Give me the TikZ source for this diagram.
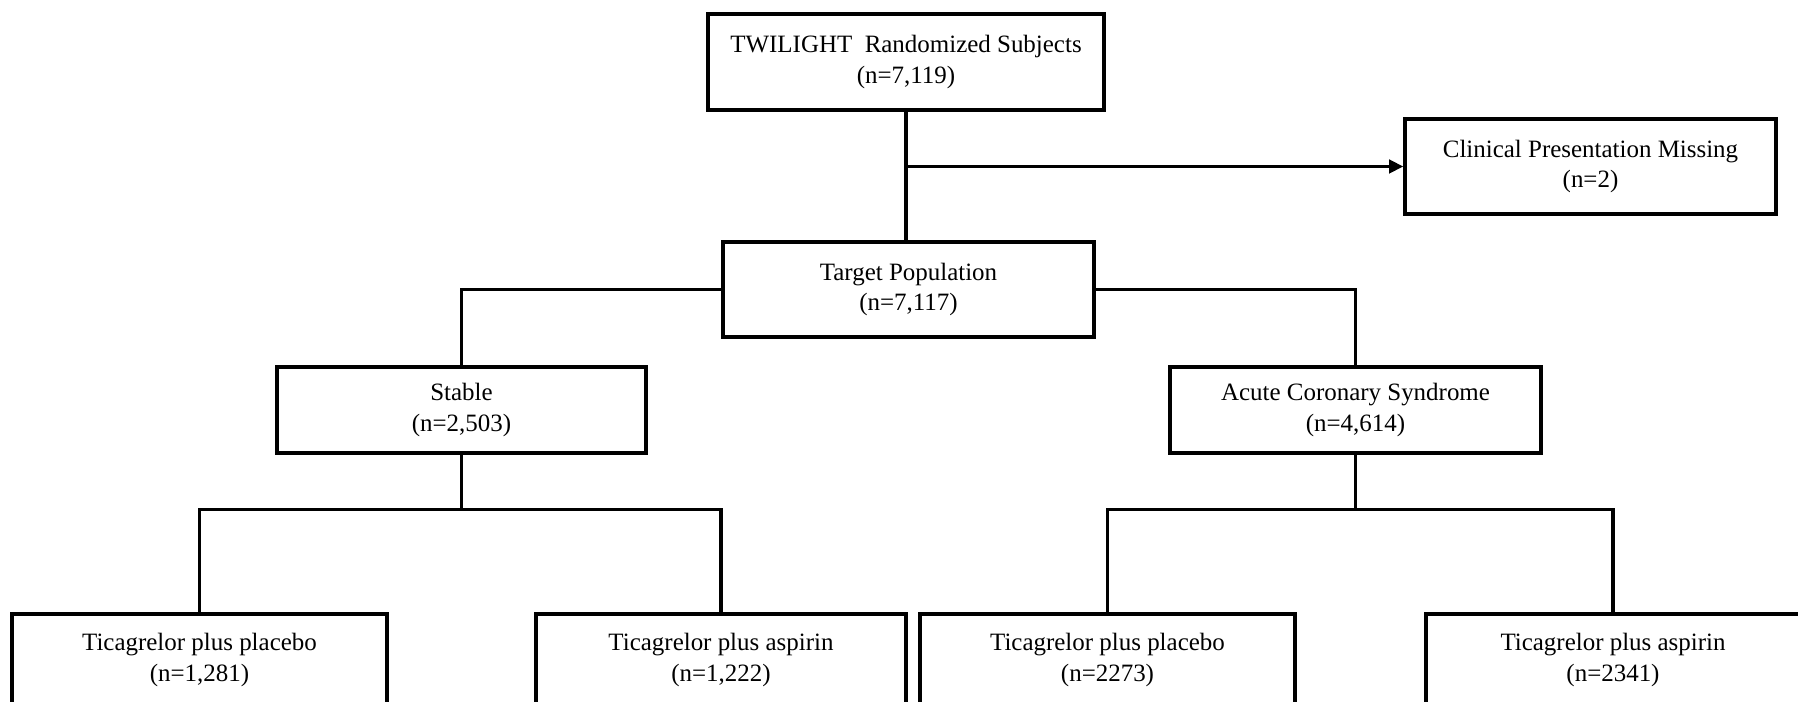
\documentclass[tikz,border=0pt]{standalone}
\usepackage{fontspec}
\setmainfont{Liberation Serif}
\usetikzlibrary{arrows.meta}

\tikzset{boite/.style 2 args = {draw, line width = 1pt, inner sep = 0pt, align = center,
                                minimum width = #1cm, minimum height = #2cm,
                                font = \fontsize{7.1}{8.8}\selectfont},
         lien/.style = {line width = 0.9pt},
         fleche/.style = {lien, -{Triangle[length=4pt, width=3.8pt]}}
        }

\begin{document}
\begin{tikzpicture}
\useasboundingbox (0,0) rectangle (17.98,-7.02);
\node[boite={3.96}{0.96}] (twilight) at (9.06,-0.62) {TWILIGHT~ Randomized Subjects\\(n=7,119)};
\node[boite={3.71}{0.95}] (missing) at (15.905,-1.665) {Clinical Presentation Missing\\(n=2)};
\node[boite={3.71}{0.95}] (target) at (9.085,-2.895) {Target Population\\(n=7,117)};
\node[boite={3.69}{0.86}] (stable) at (4.615,-4.10) {Stable\\(n=2,503)};
\node[boite={3.71}{0.86}] (acs) at (13.555,-4.10) {Acute Coronary Syndrome\\(n=4,614)};
\foreach \n/\x/\w/\t in {sp/1.995/3.75/{Ticagrelor plus placebo\\(n=1,281)},
                         sa/7.21/3.70/{Ticagrelor plus aspirin\\(n=1,222)},
                         ap/11.075/3.75/{Ticagrelor plus placebo\\(n=2273)},
                         aa/16.13/3.74/{Ticagrelor plus aspirin\\(n=2341)}}
   {\node[boite={\w}{0.92}] (\n) at (\x,-6.60) {\t};}
% split toward the missing box
\coordinate (split) at (twilight.south |- missing.west);
\draw[lien] (twilight.south) -- (twilight.south |- target.north);
\draw[fleche] (split) -- (missing.west);
\draw[lien] (target.west) -| (stable.north);
\draw[lien] (target.east) -| (acs.north);
\draw[lien] (stable.south) -- ++(0,-0.55) coordinate (js);
\draw[lien] (acs.south) -- ++(0,-0.55) coordinate (ja);
\draw[lien] (sp.north) |- (js) -| (sa.north);
\draw[lien] (ap.north) |- (ja) -| (aa.north);
\end{tikzpicture}
\end{document}
